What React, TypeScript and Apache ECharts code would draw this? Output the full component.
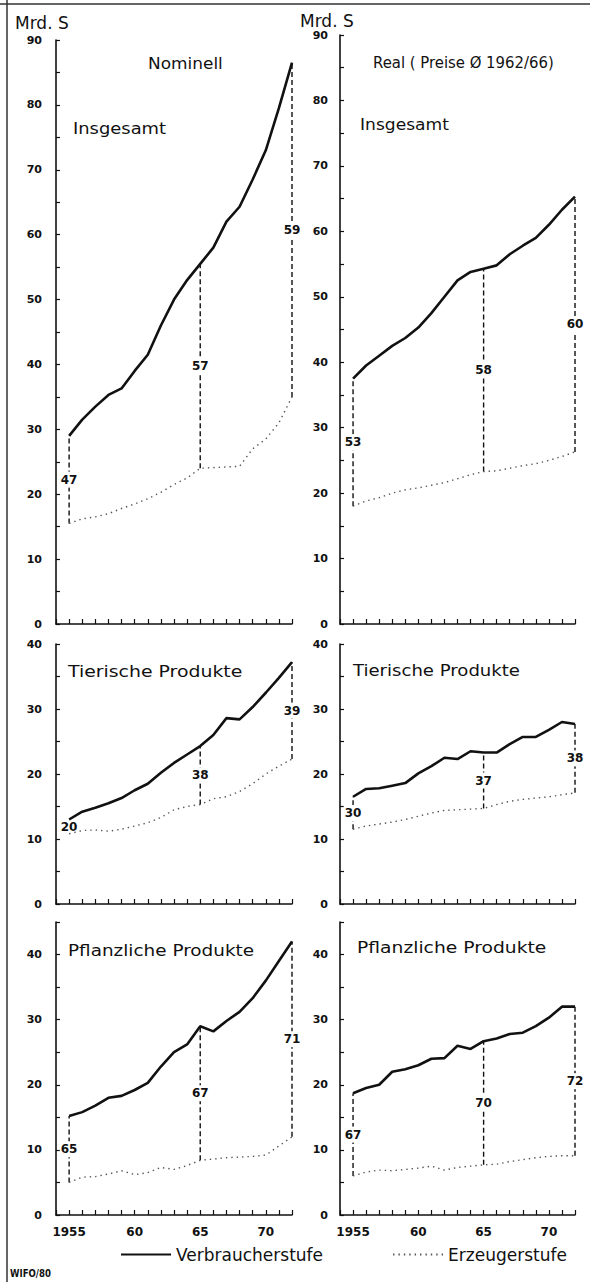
import React, { useEffect, useRef } from "react";
import * as echarts from "echarts";

// ---------- data (Mrd. S) ----------
const years = [1955, 1956, 1957, 1958, 1959, 1960, 1961, 1962, 1963, 1964, 1965, 1966, 1967, 1968, 1969, 1970, 1971, 1972];

const nominalTotalConsumer = [29, 31.5, 33.5, 35.3, 36.3, 39, 41.5, 46, 50, 53, 55.5, 58, 62, 64.3, 68.5, 73, 79.5, 86.5];
const nominalTotalProducer = [15.5, 16.2, 16.5, 17, 17.8, 18.5, 19.3, 20.3, 21.5, 22.5, 24, 24.1, 24.2, 24.3, 27, 28.5, 31, 35];

const realTotalConsumer = [37.5, 39.5, 41, 42.5, 43.7, 45.3, 47.5, 50, 52.5, 53.8, 54.3, 54.8, 56.5, 57.8, 59, 61, 63.3, 65.3];
const realTotalProducer = [18, 18.8, 19.3, 20, 20.5, 20.8, 21.2, 21.6, 22.2, 22.8, 23.3, 23.4, 23.8, 24.2, 24.5, 25, 25.6, 26.3];

const nominalAnimalConsumer = [13, 14.2, 14.8, 15.5, 16.3, 17.5, 18.5, 20.2, 21.7, 23, 24.3, 26, 28.6, 28.4, 30.3, 32.5, 34.8, 37.2];
const nominalAnimalProducer = [10.8, 11.3, 11.4, 11.2, 11.5, 12, 12.5, 13.3, 14.5, 15, 15.3, 16.2, 16.5, 17.3, 18.5, 20, 21.2, 22.3];

const realAnimalConsumer = [16.5, 17.7, 17.8, 18.2, 18.6, 20.1, 21.2, 22.5, 22.3, 23.5, 23.3, 23.3, 24.6, 25.7, 25.7, 26.8, 28, 27.7];
const realAnimalProducer = [11.5, 12, 12.3, 12.6, 13, 13.5, 14, 14.4, 14.5, 14.6, 14.7, 15.3, 15.8, 16.1, 16.3, 16.5, 16.8, 17.1];

const nominalPlantConsumer = [15.2, 15.8, 16.8, 18, 18.3, 19.2, 20.3, 22.8, 25, 26.2, 29, 28.2, 29.8, 31.2, 33.3, 36, 39, 42];
const nominalPlantProducer = [5, 5.8, 5.9, 6.3, 6.8, 6.2, 6.5, 7.3, 7, 7.6, 8.4, 8.6, 8.8, 8.9, 9, 9.2, 10.6, 12];

const realPlantConsumer = [18.7, 19.5, 20, 22, 22.4, 23, 24, 24.1, 26, 25.5, 26.7, 27.1, 27.8, 28, 29, 30.3, 32, 32];
const realPlantProducer = [6, 6.6, 6.9, 6.8, 7, 7.2, 7.5, 6.9, 7.3, 7.5, 7.7, 7.8, 8.2, 8.5, 8.8, 9, 9.1, 9.1];

// marked years and margin shares (%)
const markerYears = [1955, 1965, 1972];
const nominalTotalShares = ["47", "57", "59"];
const realTotalShares = ["53", "58", "60"];
const nominalAnimalShares = ["20", "38", "39"];
const realAnimalShares = ["30", "37", "38"];
const nominalPlantShares = ["65", "67", "71"];
const realPlantShares = ["67", "70", "72"];

const panelMax = [90, 90, 40, 40, 45, 45];
const seriesNames = ["Verbraucherstufe", "Erzeugerstufe"];

// ---------- layout / style ----------
const FONT = "'DejaVu Sans', sans-serif";
const INK = "#111";

const panels = [
  { consumer: nominalTotalConsumer, producer: nominalTotalProducer, shares: nominalTotalShares },
  { consumer: realTotalConsumer, producer: realTotalProducer, shares: realTotalShares },
  { consumer: nominalAnimalConsumer, producer: nominalAnimalProducer, shares: nominalAnimalShares },
  { consumer: realAnimalConsumer, producer: realAnimalProducer, shares: realAnimalShares },
  { consumer: nominalPlantConsumer, producer: nominalPlantProducer, shares: nominalPlantShares },
  { consumer: realPlantConsumer, producer: realPlantProducer, shares: realPlantShares },
];

const grids = [
  { left: 56, width: 236, top: 40, height: 584 },
  { left: 340, width: 235, top: 35, height: 589 },
  { left: 56, width: 236, top: 644, height: 260 },
  { left: 340, width: 235, top: 644, height: 260 },
  { left: 56, width: 236, top: 922, height: 293 },
  { left: 340, width: 235, top: 922, height: 293 },
];

const makeRender = (labels: string[]) => (params: any, api: any) => {
  const x = api.value(0);
  const lo = api.value(1);
  const hi = api.value(2);
  const a = api.coord([x, lo]);
  const b = api.coord([x, hi]);
  const m = api.coord([x, (lo + hi) / 2]);
  return {
    type: "group",
    children: [
      {
        type: "line",
        shape: { x1: a[0], y1: a[1], x2: b[0], y2: b[1] },
        style: { stroke: INK, lineWidth: 1.4, lineDash: [5, 3], fill: null },
      },
      {
        type: "text",
        x: m[0],
        y: m[1],
        style: {
          text: labels[params.dataIndex],
          fill: INK,
          font: `bold 12px ${FONT}`,
          align: "center",
          verticalAlign: "middle",
          backgroundColor: "#fff",
          padding: [2, 1],
        },
      },
    ],
  };
};

const titleText = (text: string, x: number, y: number, scaleX: number, size = 16) => ({
  type: "text",
  x,
  y,
  scaleX,
  style: { text, font: `${size}px ${FONT}`, fill: INK, verticalAlign: "middle" },
});

function buildOption(): any {
  const xAxis = grids.map((_, i) => ({
    type: "value",
    gridIndex: i,
    min: 1954,
    max: 1972,
    interval: 1,
    splitLine: { show: false },
    axisLine: { show: true, lineStyle: { color: INK, width: 1.5 } },
    axisTick: { show: true, inside: true, length: 5, lineStyle: { color: INK, width: 1.2 } },
    axisLabel: {
      show: i >= 4,
      margin: 11,
      color: INK,
      fontFamily: FONT,
      fontWeight: "bold",
      fontSize: 12,
      formatter: (v: number) => (v === 1955 ? "1955" : v % 5 === 0 ? String(v).slice(2) : ""),
    },
  }));

  const yAxis = grids.map((_, i) => ({
    type: "value",
    gridIndex: i,
    min: 0,
    max: panelMax[i],
    interval: 5,
    splitLine: { show: false },
    axisLine: { show: true, lineStyle: { color: INK, width: 1.6 } },
    axisTick: { show: true, inside: true, length: 4, lineStyle: { color: INK, width: 1.2 } },
    axisLabel: {
      margin: i % 2 === 0 ? 14 : 12,
      color: INK,
      fontFamily: FONT,
      fontWeight: "bold",
      fontSize: 11,
      formatter: (v: number) => (v % 10 === 0 ? String(v) : ""),
    },
  }));

  const series: any[] = [];
  panels.forEach((p, i) => {
    series.push({
      type: "line",
      name: seriesNames[0],
      xAxisIndex: i,
      yAxisIndex: i,
      data: years.map((y, k) => [y, p.consumer[k]]),
      symbol: "none",
      lineStyle: { color: INK, width: 2.6 },
      itemStyle: { color: INK },
      z: 3,
    });
    series.push({
      type: "line",
      name: seriesNames[1],
      xAxisIndex: i,
      yAxisIndex: i,
      data: years.map((y, k) => [y, p.producer[k]]),
      symbol: "none",
      lineStyle: { color: "#555", width: 1.4, type: [1.4, 4] },
      itemStyle: { color: "#555" },
      z: 3,
    });
    series.push({
      type: "custom",
      xAxisIndex: i,
      yAxisIndex: i,
      silent: true,
      encode: { x: 0, y: [1, 2] },
      data: markerYears.map((y) => {
        const k = years.indexOf(y);
        return [y, p.producer[k], p.consumer[k]];
      }),
      renderItem: makeRender(p.shares),
      z: 2,
    });
  });

  return {
    animation: false,
    backgroundColor: "#fff",
    grid: grids.map((g) => ({ ...g, containLabel: false })),
    xAxis,
    yAxis,
    series,
    legend: {
      data: seriesNames,
      left: 115,
      top: 1241,
      itemWidth: 50,
      itemHeight: 14,
      itemGap: 69,
      itemStyle: { opacity: 0, borderWidth: 0 },
      textStyle: { fontFamily: FONT, fontSize: 17, color: INK },
    },
    graphic: [
      { type: "line", shape: { x1: 0, y1: 4, x2: 590, y2: 4 }, style: { stroke: "#333", lineWidth: 1.5 } },
      { type: "line", shape: { x1: 7, y1: 0, x2: 7, y2: 1282 }, style: { stroke: "#333", lineWidth: 1.5 } },
      titleText("Mrd. S", 15, 23, 1, 17),
      titleText("Mrd. S", 300, 21, 1, 17),
      titleText("Nominell", 148, 64, 1.06),
      titleText("Insgesamt", 73, 128, 1.12),
      titleText("Real ( Preise Ø 1962/66)", 373, 63, 0.93),
      titleText("Insgesamt", 360, 125, 1.07),
      titleText("Tierische Produkte", 68, 672, 1.18),
      titleText("Tierische Produkte", 353, 670, 1.13),
      titleText("Pflanzliche Produkte", 68, 950, 1.15),
      titleText("Pflanzliche Produkte", 357, 947, 1.17),
      {
        type: "text",
        x: 10,
        y: 1273,
        scaleX: 0.78,
        style: { text: "WIFO/80", font: `bold 11px ${FONT}`, fill: INK, verticalAlign: "middle" },
      },
    ],
  };
}

export default function App() {
  const ref = useRef<HTMLDivElement>(null);
  useEffect(() => {
    if (!ref.current) return;
    const chart = echarts.init(ref.current, null, { renderer: "svg" });
    chart.setOption(buildOption());
    return () => chart.dispose();
  }, []);
  return (
    <div
      ref={ref}
      style={{ position: "absolute", left: 0, top: 0, width: 590, height: 1282, background: "#fff" }}
    />
  );
}
